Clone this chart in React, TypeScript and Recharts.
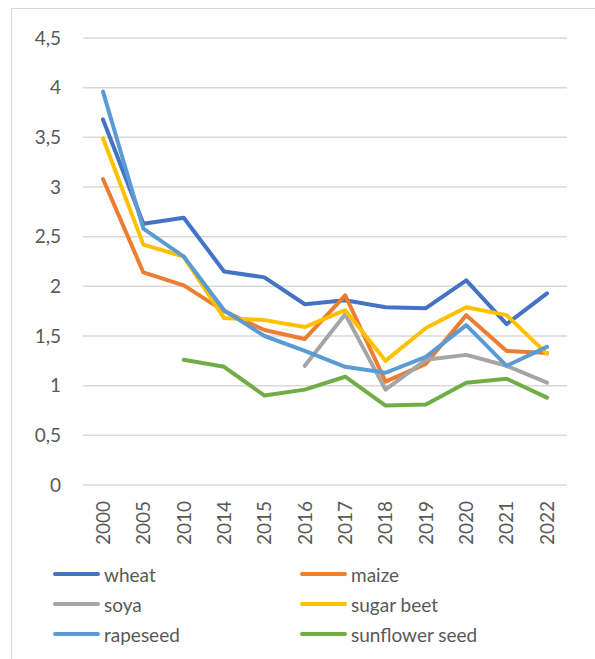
import React from 'react';
import { LineChart, Line, XAxis, YAxis, CartesianGrid } from 'recharts';

// categories and values
const years = ['2000', '2005', '2010', '2014', '2015', '2016', '2017', '2018', '2019', '2020', '2021', '2022'];
const wheat = [3.68, 2.63, 2.69, 2.15, 2.09, 1.82, 1.86, 1.79, 1.78, 2.06, 1.62, 1.93];
const maize = [3.08, 2.14, 2.01, 1.75, 1.56, 1.47, 1.91, 1.04, 1.22, 1.71, 1.35, 1.33];
const soya = [null, null, null, null, null, 1.2, 1.72, 0.96, 1.26, 1.31, 1.2, 1.03];
const sugarBeet = [3.49, 2.42, 2.3, 1.68, 1.66, 1.59, 1.76, 1.25, 1.58, 1.79, 1.71, 1.32];
const rapeseed = [3.96, 2.58, 2.3, 1.76, 1.5, 1.35, 1.19, 1.13, 1.29, 1.61, 1.2, 1.39];
const sunflowerSeed = [null, null, 1.26, 1.19, 0.9, 0.96, 1.09, 0.8, 0.81, 1.03, 1.07, 0.88];
const yTicks = [0, 0.5, 1, 1.5, 2, 2.5, 3, 3.5, 4, 4.5];

const series = [
  { key: 'wheat', name: 'wheat', color: '#4472C4', values: wheat },
  { key: 'maize', name: 'maize', color: '#ED7D31', values: maize },
  { key: 'soya', name: 'soya', color: '#A5A5A5', values: soya },
  { key: 'sugarBeet', name: 'sugar beet', color: '#FFC000', values: sugarBeet },
  { key: 'rapeseed', name: 'rapeseed', color: '#5B9BD5', values: rapeseed },
  { key: 'sunflowerSeed', name: 'sunflower seed', color: '#70AD47', values: sunflowerSeed },
];

const data = years.map((year, i) => {
  const row: Record<string, string | number | null> = { year };
  series.forEach((s) => {
    row[s.key] = s.values[i];
  });
  return row;
});

const FONT = 'Lato, "Open Sans", sans-serif';
const TEXT = '#595959';

const YearTick = (props: any) => {
  const { x, y, payload } = props;
  return (
    <text
      x={x}
      y={y}
      transform={`rotate(-90, ${x}, ${y})`}
      textAnchor="end"
      dy="0.36em"
      fill={TEXT}
      fontSize={19}
      fontFamily={FONT}
    >
      {payload.value}
    </text>
  );
};

export default function App() {
  return (
    <div style={{ position: 'absolute', left: 0, top: 0, width: 595, height: 659, background: '#fff', overflow: 'hidden' }}>
      {/* chart frame, the right/bottom edges are outside the picture */}
      <div
        style={{
          position: 'absolute',
          left: 11,
          top: 8,
          width: 700,
          height: 700,
          borderLeft: '1.5px solid #d9d9d9',
          borderTop: '1.5px solid #d9d9d9',
        }}
      />
      <div style={{ position: 'absolute', left: 0, top: 0 }}>
        <LineChart width={595} height={659} data={data} margin={{ top: 38, right: 28, left: 10, bottom: 104 }}>
          <CartesianGrid vertical={false} stroke="#d9d9d9" strokeWidth={1.5} />
          <XAxis
            dataKey="year"
            interval={0}
            padding={{ left: 20, right: 20 }}
            axisLine={false}
            tickLine={false}
            tickSize={6}
            tickMargin={10}
            height={70}
            tick={<YearTick />}
          />
          <YAxis
            domain={[0, 4.5]}
            ticks={yTicks}
            axisLine={false}
            tickLine={false}
            tickSize={6}
            tickMargin={16}
            width={73}
            tickFormatter={(v: number) => String(v).replace('.', ',')}
            tick={{ fill: TEXT, fontSize: 19, fontFamily: FONT }}
          />
          {series.map((s) => (
            <Line
              key={s.key}
              dataKey={s.key}
              name={s.name}
              stroke={s.color}
              strokeWidth={4}
              strokeLinecap="round"
              strokeLinejoin="round"
              dot={false}
              activeDot={false}
              isAnimationActive={false}
            />
          ))}
        </LineChart>
      </div>
      {/* legend, two columns */}
      {series.map((s, i) => {
        const col = i % 2;
        const row = Math.floor(i / 2);
        const left = col === 0 ? 53 : 300;
        const top = 574 + row * 30;
        return (
          <div key={s.key} style={{ position: 'absolute', left, top: top - 12, height: 24, display: 'flex', alignItems: 'center' }}>
            <div style={{ width: 47, height: 4.5, borderRadius: 3, background: s.color, marginRight: 4 }} />
            <span style={{ fontFamily: FONT, fontSize: 19, color: TEXT, whiteSpace: 'nowrap' }}>{s.name}</span>
          </div>
        );
      })}
    </div>
  );
}
